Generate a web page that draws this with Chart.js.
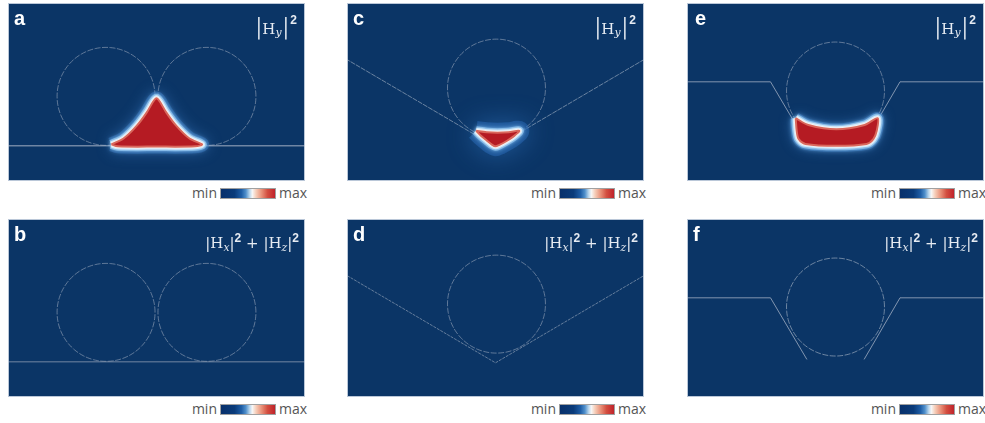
<!DOCTYPE html>
<html>
<head>
<meta charset="utf-8">
<script src="https://cdn.jsdelivr.net/npm/chart.js@4/dist/chart.umd.min.js"></script>
<style>
  html, body { margin: 0; padding: 0; background: #ffffff; }
  body { width: 985px; height: 423px; position: relative; overflow: hidden; }
  .panel { position: absolute; width: 297px; height: 178px; }
  .panel canvas { position: absolute; left: 0; top: 0; }
  .tag { position: absolute; left: 6px; top: 5px; font: bold 20px/20px "Liberation Sans", Arial, sans-serif; color: #ffffff; }
  .fx { position: absolute; right: 8px; color: #e6ebf2; font-family: "DejaVu Serif", "Liberation Serif", serif; white-space: nowrap; }
  .fx sub { font-size: 0.72em; font-style: italic; }
  .fx sup { font-family: "Liberation Sans", Arial, sans-serif; font-weight: bold; }
  .fx.tall { top: 4px; font-size: 15px; line-height: 26px; }
  .fx.tall .bar { font-size: 23px; font-weight: normal; display: inline-block; transform: scaleX(0.8); }
  .fx.tall sub { vertical-align: -2px; }
  .fx.tall sup { font-size: 12px; vertical-align: 10px; margin-left: 1px; }
  .fx.flat { top: 9px; font-size: 15px; line-height: 20px; right: 6px; }
  .fx.flat sub { vertical-align: -3px; }
  .fx.flat sup { font-size: 12px; vertical-align: 6px; }
  .cbar { position: absolute; left: 212px; top: 185px; width: 54px; height: 9px; border: 1px solid #a0a0a0;
          background: linear-gradient(to right, #08306b 0%, #0a3b7a 25%, #1f5ea6 38%, #4f8fcb 46%, #b7d5ec 53%, #f7f7f7 58%, #f6cdb8 65%, #e9927a 75%, #d34f40 86%, #c0222a 100%); }
  .lbl { position: absolute; top: 181px; font: 14px/18px "Open Sans", "Liberation Sans", sans-serif; color: #555555; }
  .lbl.min { right: 88px; }
  .lbl.max { left: 271px; }
</style>
</head>
<body>

<div class="panel" style="left:8px; top:3px;">
  <canvas id="ca" width="297" height="178"></canvas>
  <div class="tag">a</div>
  <div class="fx tall"><span class="bar">|</span>H<sub>y</sub><span class="bar">|</span><sup>2</sup></div>
  <div class="lbl min">min</div><div class="cbar"></div><div class="lbl max">max</div>
</div>
<div class="panel" style="left:347px; top:3px;">
  <canvas id="cc" width="297" height="178"></canvas>
  <div class="tag">c</div>
  <div class="fx tall"><span class="bar">|</span>H<sub>y</sub><span class="bar">|</span><sup>2</sup></div>
  <div class="lbl min">min</div><div class="cbar"></div><div class="lbl max">max</div>
</div>
<div class="panel" style="left:687px; top:3px;">
  <canvas id="ce" width="297" height="178"></canvas>
  <div class="tag" style="left:8px">e</div>
  <div class="fx tall"><span class="bar">|</span>H<sub>y</sub><span class="bar">|</span><sup>2</sup></div>
  <div class="lbl min">min</div><div class="cbar"></div><div class="lbl max">max</div>
</div>
<div class="panel" style="left:8px; top:219px;">
  <canvas id="cb" width="297" height="178"></canvas>
  <div class="tag">b</div>
  <div class="fx flat">|H<sub>x</sub>|<sup>2</sup> + |H<sub>z</sub>|<sup>2</sup></div>
  <div class="lbl min">min</div><div class="cbar"></div><div class="lbl max">max</div>
</div>
<div class="panel" style="left:347px; top:219px;">
  <canvas id="cd" width="297" height="178"></canvas>
  <div class="tag">d</div>
  <div class="fx flat">|H<sub>x</sub>|<sup>2</sup> + |H<sub>z</sub>|<sup>2</sup></div>
  <div class="lbl min">min</div><div class="cbar"></div><div class="lbl max">max</div>
</div>
<div class="panel" style="left:687px; top:219px;">
  <canvas id="cf" width="297" height="178"></canvas>
  <div class="tag">f</div>
  <div class="fx flat">|H<sub>x</sub>|<sup>2</sup> + |H<sub>z</sub>|<sup>2</sup></div>
  <div class="lbl min">min</div><div class="cbar"></div><div class="lbl max">max</div>
</div>

<script>
// Cross-section geometry, in units of the fibre radius, origin at the window centre.
const X_HALF = 3.062;
const Y_HALF = 1.835;
const FIBRE_R = 1.01;

// fibre centres [x, y]
const twinFibres = [[-1.04, -0.09], [1.04, -0.09]];
const vFibre = [[0.02, 0.08]];
const trenchFibre = [[0.0, 0.02]];

// substrate outlines
const flatSubstrate = [{x: -3.2, y: -1.11}, {x: 3.2, y: -1.11}];
const vGroove = [{x: -3.2, y: 0.75}, {x: 0.0, y: -1.13}, {x: 3.2, y: 0.75}];
const trenchLeft = [{x: -3.2, y: 0.21}, {x: -1.34, y: 0.21}, {x: -0.59, y: -1.06}];
const trenchRight = [{x: 0.59, y: -1.06}, {x: 1.33, y: 0.21}, {x: 3.2, y: 0.21}];

// |Hy|^2 hot-spot outlines (closed)
const modeTwin = [
  {x: -0.93, y: -1.08}, {x: -0.68, y: -0.96}, {x: -0.41, y: -0.70}, {x: -0.20, y: -0.42},
  {x: -0.07, y: -0.20}, {x: 0.00, y: -0.13}, {x: 0.07, y: -0.20}, {x: 0.20, y: -0.42},
  {x: 0.41, y: -0.70}, {x: 0.68, y: -0.96}, {x: 0.94, y: -1.08}, {x: 0.80, y: -1.12},
  {x: 0.00, y: -1.125}, {x: -0.80, y: -1.12}, {x: -0.93, y: -1.08}
];
const modeV = [
  {x: -0.40, y: -0.80}, {x: -0.18, y: -0.83}, {x: 0.04, y: -0.84}, {x: 0.27, y: -0.83},
  {x: 0.49, y: -0.80}, {x: 0.38, y: -0.91}, {x: 0.23, y: -1.01}, {x: 0.08, y: -1.09},
  {x: 0.00, y: -1.12}, {x: -0.08, y: -1.08}, {x: -0.18, y: -1.00}, {x: -0.30, y: -0.90},
  {x: -0.40, y: -0.80}
];
const modeTrench = [
  {x: -0.82, y: -0.54}, {x: -0.56, y: -0.68}, {x: 0.02, y: -0.77}, {x: 0.60, y: -0.68},
  {x: 0.87, y: -0.54}, {x: 0.85, y: -0.80}, {x: 0.78, y: -0.97}, {x: 0.64, y: -1.07},
  {x: 0.02, y: -1.11}, {x: -0.62, y: -1.07}, {x: -0.76, y: -0.97}, {x: -0.80, y: -0.80},
  {x: -0.82, y: -0.54}
];

const FIELD_BG = '#0b3566';

function circlePoints(c, r) {
  const pts = [];
  for (let k = 0; k <= 144; k++) {
    const t = (k / 144) * Math.PI * 2;
    pts.push({x: c[0] + r * Math.cos(t), y: c[1] + r * Math.sin(t)});
  }
  return pts;
}

function outline(points, color, dash) {
  return {
    data: points, showLine: true, fill: false, borderColor: color, borderWidth: 1,
    borderDash: dash || [], pointRadius: 0, tension: 0, order: 10
  };
}

function fibres(centres, color, dash) {
  return centres.map(c => outline(circlePoints(c, FIBRE_R), color, dash));
}

// soft halo, pale rim, red core
function hotSpot(points, halo) {
  const base = {data: points, showLine: true, tension: 0.3, pointRadius: 0};
  return [
    {...base, fill: false, borderColor: halo.color, borderWidth: halo.width,
     glow: {color: halo.shadow, blur: halo.blur}, order: 6},
    {...base, fill: false, borderColor: 'rgba(120,180,230,0.9)', borderWidth: 9,
     glow: {color: 'rgba(120,185,240,0.9)', blur: 5}, order: 5},
    {...base, fill: false, borderColor: 'rgba(215,235,250,0.95)', borderWidth: 6,
     glow: {color: 'rgba(200,228,250,1)', blur: 3}, order: 4},
    {...base, fill: false, borderColor: '#fbf3ee', borderWidth: 3.5, order: 3},
    {...base, fill: 'shape', backgroundColor: '#b51b23', borderColor: '#d9675c', borderWidth: 2, order: 2}
  ];
}

const backdrop = {
  id: 'backdrop',
  beforeDraw(chart) {
    const {ctx, chartArea: a} = chart;
    ctx.save();
    ctx.fillStyle = FIELD_BG;
    ctx.fillRect(a.left, a.top, a.right - a.left, a.bottom - a.top);
    ctx.restore();
  },
  afterDraw(chart) {
    const {ctx, chartArea: a} = chart;
    ctx.save();
    ctx.strokeStyle = 'rgba(205,215,228,0.9)';
    ctx.lineWidth = 1;
    ctx.strokeRect(a.left + 0.5, a.top + 0.5, a.right - a.left - 1, a.bottom - a.top - 1);
    ctx.restore();
  }
};

const glow = {
  id: 'glow',
  beforeDatasetDraw(chart, args) {
    const g = chart.data.datasets[args.index].glow;
    if (!g) return;
    chart.ctx.save();
    chart.ctx.shadowColor = g.color;
    chart.ctx.shadowBlur = g.blur;
  },
  afterDatasetDraw(chart, args) {
    if (chart.data.datasets[args.index].glow) chart.ctx.restore();
  }
};

function fieldMap(id, datasets) {
  return new Chart(document.getElementById(id), {
    type: 'scatter',
    data: {datasets},
    options: {
      responsive: false, animation: false, events: [],
      layout: {padding: 0},
      scales: {
        x: {type: 'linear', min: -X_HALF, max: X_HALF, display: false},
        y: {type: 'linear', min: -Y_HALF, max: Y_HALF, display: false}
      },
      plugins: {legend: {display: false}, tooltip: {enabled: false}}
    },
    plugins: [backdrop, glow]
  });
}

const lineGrey = 'rgba(170,182,200,0.75)';
const fibreGrey = 'rgba(165,177,195,0.55)';
const fibreDash = [6, 1.5];

// a: twin fibres on a flat substrate, |Hy|^2
fieldMap('ca', [
  outline(flatSubstrate, 'rgba(190,198,210,0.85)'),
  ...fibres(twinFibres, fibreGrey, fibreDash),
  ...hotSpot(modeTwin, {color: 'rgba(50,115,190,0.45)', width: 14, shadow: 'rgba(70,140,215,0.9)', blur: 14})
]);
// b: same geometry, transverse components
fieldMap('cb', [
  outline(flatSubstrate, 'rgba(140,156,178,0.8)'),
  ...fibres(twinFibres, fibreGrey, fibreDash)
]);
// c: fibre in a V-groove, |Hy|^2
fieldMap('cc', [
  outline(vGroove, 'rgba(170,183,200,0.6)', [5, 1]),
  ...fibres(vFibre, fibreGrey, fibreDash),
  ...hotSpot(modeV, {color: 'rgba(45,110,190,0.45)', width: 20, shadow: 'rgba(60,135,215,0.95)', blur: 26})
]);
// d: V-groove, transverse components
fieldMap('cd', [
  outline(vGroove, 'rgba(160,173,192,0.6)', [3, 1]),
  ...fibres(vFibre, fibreGrey, fibreDash)
]);
// e: fibre in a trapezoidal trench, |Hy|^2
fieldMap('ce', [
  outline(trenchLeft, lineGrey),
  outline(trenchRight, lineGrey),
  ...fibres(trenchFibre, fibreGrey, fibreDash),
  ...hotSpot(modeTrench, {color: 'rgba(50,115,190,0.45)', width: 12, shadow: 'rgba(70,140,215,0.9)', blur: 12})
]);
// f: trench, transverse components
fieldMap('cf', [
  outline(trenchLeft, lineGrey),
  outline(trenchRight, lineGrey),
  ...fibres(trenchFibre, 'rgba(175,186,202,0.6)', fibreDash)
]);
</script>
</body>
</html>
